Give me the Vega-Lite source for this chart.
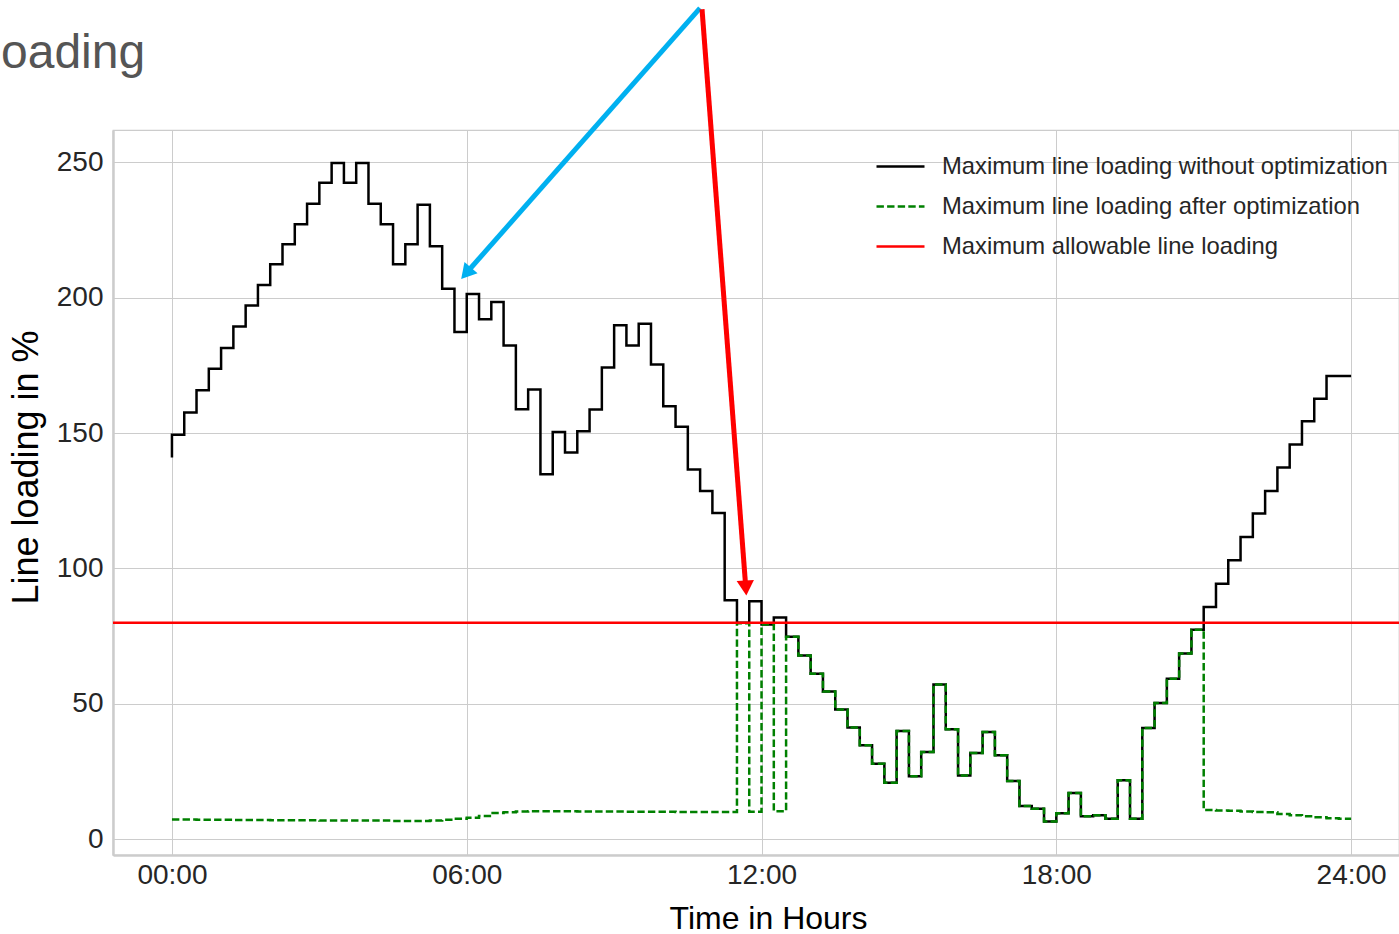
{
  "$schema": "https://vega.github.io/schema/vega-lite/v6.json",
  "autosize": {"type": "none"},
  "padding": {"left": 113, "top": 130, "right": 0, "bottom": 79},
  "width": 1286,
  "height": 725,
  "background": "#ffffff",
  "title": {
    "text": "oading",
    "anchor": "start",
    "frame": "group",
    "dx": -112,
    "offset": 0,
    "dy": 110,
    "baseline": "alphabetic",
    "font": "Liberation Sans",
    "fontSize": 48,
    "fontWeight": "normal",
    "color": "#555555"
  },
  "datasets": {
    "load": [
      {"t": 0, "without": 141.0, "after": 7.3},
      {"t": 0.25, "without": 149.4, "after": 7.3},
      {"t": 0.5, "without": 157.6, "after": 7.3},
      {"t": 0.75, "without": 165.8, "after": 7.2},
      {"t": 1, "without": 173.7, "after": 7.2},
      {"t": 1.25, "without": 181.4, "after": 7.2},
      {"t": 1.5, "without": 189.3, "after": 7.1},
      {"t": 1.75, "without": 197.1, "after": 7.1},
      {"t": 2, "without": 204.7, "after": 7.1},
      {"t": 2.25, "without": 212.3, "after": 7.0},
      {"t": 2.5, "without": 219.7, "after": 7.0},
      {"t": 2.75, "without": 227.1, "after": 7.0},
      {"t": 3, "without": 234.7, "after": 7.0},
      {"t": 3.25, "without": 242.4, "after": 6.9},
      {"t": 3.5, "without": 249.7, "after": 6.9},
      {"t": 3.75, "without": 242.4, "after": 6.9},
      {"t": 4, "without": 249.7, "after": 6.9},
      {"t": 4.25, "without": 234.7, "after": 6.9},
      {"t": 4.5, "without": 227.1, "after": 6.9},
      {"t": 4.75, "without": 212.3, "after": 6.8},
      {"t": 5, "without": 219.7, "after": 6.8},
      {"t": 5.25, "without": 234.3, "after": 6.8},
      {"t": 5.5, "without": 219.0, "after": 6.9},
      {"t": 5.75, "without": 203.3, "after": 7.2},
      {"t": 6, "without": 187.3, "after": 7.6},
      {"t": 6.25, "without": 201.3, "after": 8.0},
      {"t": 6.5, "without": 192.0, "after": 8.6},
      {"t": 6.75, "without": 198.4, "after": 9.7},
      {"t": 7, "without": 182.3, "after": 10.0},
      {"t": 7.25, "without": 158.8, "after": 10.3},
      {"t": 7.5, "without": 166.1, "after": 10.4},
      {"t": 7.75, "without": 134.8, "after": 10.4},
      {"t": 8, "without": 150.4, "after": 10.4},
      {"t": 8.25, "without": 142.8, "after": 10.4},
      {"t": 8.5, "without": 150.7, "after": 10.3},
      {"t": 8.75, "without": 158.7, "after": 10.3},
      {"t": 9, "without": 174.2, "after": 10.3},
      {"t": 9.25, "without": 189.8, "after": 10.3},
      {"t": 9.5, "without": 182.3, "after": 10.2},
      {"t": 9.75, "without": 190.4, "after": 10.2},
      {"t": 10, "without": 175.3, "after": 10.2},
      {"t": 10.25, "without": 159.9, "after": 10.2},
      {"t": 10.5, "without": 152.3, "after": 10.1},
      {"t": 10.75, "without": 136.5, "after": 10.1},
      {"t": 11, "without": 128.6, "after": 10.1},
      {"t": 11.25, "without": 120.5, "after": 10.1},
      {"t": 11.5, "without": 88.3, "after": 10.1},
      {"t": 11.75, "without": 80.0, "after": 79.8},
      {"t": 12, "without": 87.9, "after": 10.2},
      {"t": 12.25, "without": 79.3, "after": 79.3},
      {"t": 12.5, "without": 81.9, "after": 10.4},
      {"t": 12.75, "without": 74.8, "after": 74.8},
      {"t": 13, "without": 67.9, "after": 67.9},
      {"t": 13.25, "without": 61.1, "after": 61.1},
      {"t": 13.5, "without": 54.6, "after": 54.6},
      {"t": 13.75, "without": 47.9, "after": 47.9},
      {"t": 14, "without": 41.3, "after": 41.3},
      {"t": 14.25, "without": 34.7, "after": 34.7},
      {"t": 14.5, "without": 27.9, "after": 27.9},
      {"t": 14.75, "without": 20.9, "after": 20.9},
      {"t": 15, "without": 40.0, "after": 40.0},
      {"t": 15.25, "without": 23.3, "after": 23.3},
      {"t": 15.5, "without": 32.2, "after": 32.2},
      {"t": 15.75, "without": 57.2, "after": 57.2},
      {"t": 16, "without": 40.6, "after": 40.6},
      {"t": 16.25, "without": 23.6, "after": 23.6},
      {"t": 16.5, "without": 31.9, "after": 31.9},
      {"t": 16.75, "without": 39.6, "after": 39.6},
      {"t": 17, "without": 31.0, "after": 31.0},
      {"t": 17.25, "without": 21.5, "after": 21.5},
      {"t": 17.5, "without": 12.3, "after": 12.3},
      {"t": 17.75, "without": 11.3, "after": 11.3},
      {"t": 18, "without": 6.6, "after": 6.6},
      {"t": 18.25, "without": 9.6, "after": 9.6},
      {"t": 18.5, "without": 17.1, "after": 17.1},
      {"t": 18.75, "without": 8.5, "after": 8.5},
      {"t": 19, "without": 8.9, "after": 8.9},
      {"t": 19.25, "without": 7.6, "after": 7.6},
      {"t": 19.5, "without": 21.8, "after": 21.8},
      {"t": 19.75, "without": 7.6, "after": 7.6},
      {"t": 20, "without": 41.1, "after": 41.1},
      {"t": 20.25, "without": 50.3, "after": 50.3},
      {"t": 20.5, "without": 59.3, "after": 59.3},
      {"t": 20.75, "without": 68.6, "after": 68.6},
      {"t": 21, "without": 77.4, "after": 77.4},
      {"t": 21.25, "without": 85.8, "after": 10.8},
      {"t": 21.5, "without": 94.4, "after": 10.6},
      {"t": 21.75, "without": 103.0, "after": 10.5},
      {"t": 22, "without": 111.6, "after": 10.3},
      {"t": 22.25, "without": 120.3, "after": 10.1},
      {"t": 22.5, "without": 128.6, "after": 10.0},
      {"t": 22.75, "without": 137.3, "after": 9.3},
      {"t": 23, "without": 145.8, "after": 8.9},
      {"t": 23.25, "without": 154.4, "after": 8.5},
      {"t": 23.5, "without": 162.7, "after": 8.1},
      {"t": 23.75, "without": 171.1, "after": 7.8},
      {"t": 24, "without": 171.1, "after": 7.6}
    ],
    "limit": [{"series": "allowable", "value": 80}],
    "arrows": [
      {"arrow": "blue", "t0": 10.748, "v0": 306.9, "t1": 5.987, "v1": 209.0},
      {"arrow": "red", "t0": 10.789, "v0": 306.5, "t1": 11.68, "v1": 92.8}
    ]
  },
  "layer": [
    {
      "data": {"name": "load"},
      "transform": [{"fold": ["without", "after"], "as": ["series", "value"]}],
      "mark": {"type": "line", "interpolate": "step-before", "strokeWidth": 2.5},
      "encoding": {
        "x": {
          "field": "t", "type": "quantitative",
          "scale": {"domain": [-1.2, 24.975], "nice": false, "zero": false},
          "axis": {
            "values": [0, 6, 12, 18, 24],
            "labelExpr": "(datum.value < 10 ? '0' : '') + datum.value + ':00'",
            "title": "Time in Hours",
            "titleX": 655,
            "titleY": 73,
            "titleAlign": "center",
            "titleBaseline": "alphabetic",
            "titleFont": "Liberation Sans",
            "titleFontSize": 32,
            "labelPadding": 6
          }
        },
        "y": {
          "field": "value", "type": "quantitative",
          "scale": {"domain": [-5.8, 261.9], "nice": false, "zero": false},
          "axis": {
            "values": [0, 50, 100, 150, 200, 250],
            "title": "Line loading in %",
            "titleAngle": -90,
            "titleX": -76,
            "titleY": 337,
            "titleAlign": "center",
            "titleBaseline": "alphabetic",
            "titleFont": "Liberation Sans",
            "titleFontSize": 36,
            "labelPadding": 10
          }
        },
        "color": {
          "field": "series", "type": "nominal",
          "scale": {"domain": ["without", "after", "allowable"], "range": ["#000000", "#008000", "#ff0000"]},
          "legend": {
            "title": null,
            "labelExpr": "datum.label == 'without' ? 'Maximum line loading without optimization' : datum.label == 'after' ? 'Maximum line loading after optimization' : 'Maximum allowable line loading'"
          }
        },
        "strokeDash": {
          "field": "series", "type": "nominal",
          "scale": {"domain": ["without", "after", "allowable"], "range": [[1, 0], [7.4, 3.2], [1, 0]]},
          "legend": {
            "title": null,
            "labelExpr": "datum.label == 'without' ? 'Maximum line loading without optimization' : datum.label == 'after' ? 'Maximum line loading after optimization' : 'Maximum allowable line loading'"
          }
        }
      }
    },
    {
      "data": {"name": "limit"},
      "mark": {"type": "rule", "strokeWidth": 2.5},
      "encoding": {
        "y": {"field": "value", "type": "quantitative"},
        "color": {"field": "series", "type": "nominal"},
        "strokeDash": {"field": "series", "type": "nominal"}
      }
    },
    {
      "data": {"name": "arrows"},
      "transform": [{"filter": "datum.arrow == 'blue'"}],
      "mark": {"type": "rule", "strokeWidth": 5, "color": "#00b0f0", "clip": false},
      "encoding": {
        "x": {"field": "t0", "type": "quantitative"},
        "y": {"field": "v0", "type": "quantitative"},
        "x2": {"field": "t1"},
        "y2": {"field": "v1"}
      }
    },
    {
      "data": {"name": "arrows"},
      "transform": [{"filter": "datum.arrow == 'blue'"}],
      "mark": {"type": "point", "shape": "triangle-up", "filled": true, "size": 300, "angle": 221, "color": "#00b0f0", "opacity": 1, "clip": false},
      "encoding": {
        "x": {"field": "t1", "type": "quantitative"},
        "y": {"field": "v1", "type": "quantitative"}
      }
    },
    {
      "data": {"name": "arrows"},
      "transform": [{"filter": "datum.arrow == 'red'"}],
      "mark": {"type": "rule", "strokeWidth": 5, "color": "#ff0000", "clip": false},
      "encoding": {
        "x": {"field": "t0", "type": "quantitative"},
        "y": {"field": "v0", "type": "quantitative"},
        "x2": {"field": "t1"},
        "y2": {"field": "v1"}
      }
    },
    {
      "data": {"name": "arrows"},
      "transform": [{"filter": "datum.arrow == 'red'"}],
      "mark": {"type": "point", "shape": "triangle-up", "filled": true, "size": 300, "angle": 176, "color": "#ff0000", "opacity": 1, "clip": false},
      "encoding": {
        "x": {"field": "t1", "type": "quantitative"},
        "y": {"field": "v1", "type": "quantitative"}
      }
    }
  ],
  "config": {
    "font": "Liberation Sans",
    "view": {"stroke": "#cccccc", "strokeWidth": 1.25},
    "axis": {
      "grid": true,
      "gridColor": "#cccccc",
      "gridWidth": 1,
      "domain": true,
      "domainColor": "#cccccc",
      "domainWidth": 2.5,
      "ticks": false,
      "labelFont": "Liberation Sans",
      "labelFontSize": 28,
      "labelColor": "#262626",
      "titleColor": "#000000",
      "titleFontWeight": "normal"
    },
    "legend": {
      "orient": "none",
      "legendX": 762,
      "legendY": 11,
      "padding": 0,
      "symbolType": "stroke",
      "symbolSize": 2304,
      "symbolStrokeWidth": 2.5,
      "labelFont": "Liberation Sans",
      "labelFontSize": 23.8,
      "labelColor": "#262626",
      "labelOffset": 16,
      "rowPadding": 2,
      "labelLimit": 0
    }
  }
}
